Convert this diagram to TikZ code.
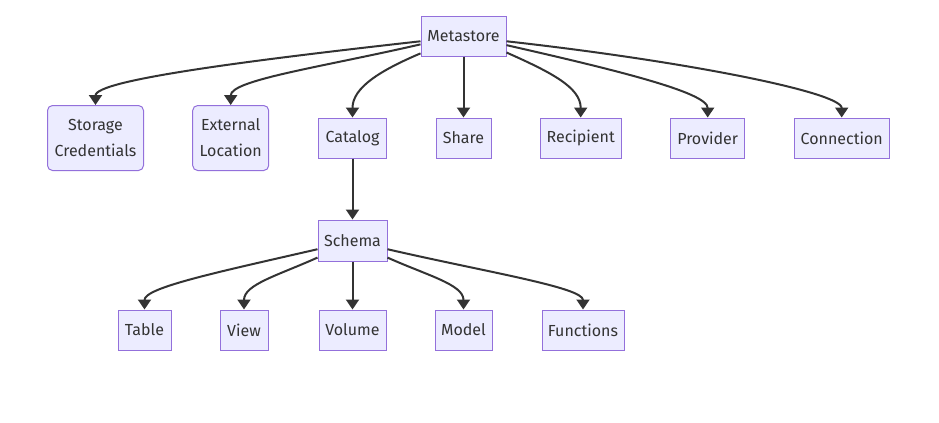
\documentclass[tikz,border=0pt]{standalone}
\usepackage{fontspec}
\setmainfont{Fira Sans}
\usepackage{tikz}
\usetikzlibrary{arrows.meta}
\definecolor{boxfill}{HTML}{ECECFF}
\definecolor{boxline}{HTML}{9370DB}
\definecolor{linkcol}{HTML}{333333}
\tikzset{
  box/.style={draw=boxline, fill=boxfill, line width=0.75pt, text=linkcol,
    text centered, minimum height=30pt, inner sep=0pt,
    font=\fontsize{12}{19.5}\selectfont},
  softbox/.style={box, rounded corners=3.75pt, align=center},
  link/.style={draw=linkcol, line width=1.5pt,
    -{Triangle[length=7.5pt,width=9.75pt]}},
}
\begin{document}
\begin{tikzpicture}[x=0.75pt,y=0.75pt]
     \useasboundingbox (0,0) rectangle (939,-422);

     \node[box, minimum width=63.75pt] (meta) at (463.5,-36) {Metastore};

     \node[softbox, minimum width=72pt, minimum height=48.75pt] (stor) at (95.5,-138) {Storage\\Credentials};
     \node[softbox, minimum width=57pt, minimum height=48.75pt] (extloc) at (230.7,-138) {External\\Location};
     \node[box, minimum width=51pt] (cat) at (352.5,-138) {Catalog};
     \node[box, minimum width=41.25pt] (share) at (463.5,-138) {Share};
     \node[box, minimum width=60.75pt] (recip) at (580.7,-138) {Recipient};
     \node[box, minimum width=55.5pt] (prov) at (707.7,-138) {Provider};
     \node[box, minimum width=71.25pt] (conn) at (841.7,-138) {Connection};

     \node[box, minimum width=51.75pt, minimum height=30.75pt] (schema) at (352.5,-240.5) {Schema};

     \node[box, minimum width=39.75pt] (tbl) at (144.5,-330) {Table};
     \node[box, minimum width=36pt] (view) at (244,-330) {View};
     \node[box, minimum width=50.25pt] (vol) at (352.5,-330) {Volume};
     \node[box, minimum width=42.75pt] (model) at (463.5,-330) {Model};
     \node[box, minimum width=61.5pt] (func) at (583,-330) {Functions};

     \draw[link] (meta.187) .. controls +(-170,-19) and +(0,25) .. (stor.north);
     \draw[link] (meta.191) .. controls +(-100,-23) and +(0,25) .. (extloc.north);
     \draw[link] (meta.202) .. controls +(-40,-17) and +(0,30) .. (cat.north);
     \draw[link] (meta.south) -- (share.north);
     \draw[link] (meta.339) .. controls +(45,-20) and +(0,30) .. (recip.north);
     \draw[link] (meta.348) .. controls +(110,-25) and +(0,25) .. (prov.north);
     \draw[link] (meta.353) .. controls +(180,-20) and +(0,25) .. (conn.north);

     \draw[link] (cat.south) -- (schema.north);

     \draw[link] (schema.194) .. controls +(-100,-23) and +(0,22) .. (tbl.north);
     \draw[link] (schema.206) .. controls +(-40,-18) and +(0,25) .. (view.north);
     \draw[link] (schema.south) -- (vol.north);
     \draw[link] (schema.334) .. controls +(40,-18) and +(0,25) .. (model.north);
     \draw[link] (schema.346) .. controls +(100,-23) and +(0,22) .. (func.north);
   \end{tikzpicture}
\end{document}
